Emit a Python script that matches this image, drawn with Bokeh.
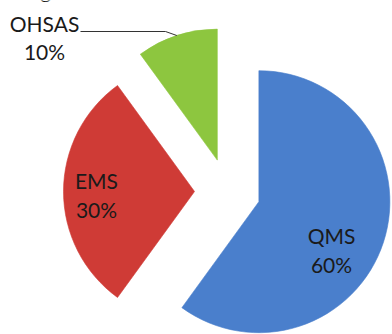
import math
from bokeh.plotting import figure
from bokeh.models import Range1d, ColumnDataSource
from bokeh.core.properties import value
from bokeh.embed import file_html
from bokeh.resources import INLINE

# ---- data ----
labels = ["QMS", "EMS", "OHSAS"]
values = [60, 30, 10]
pct_labels = ["60%", "30%", "10%"]
colors = ["#4a7fcc", "#cf3b36", "#8dc63f"]

W, H = 392, 334
p = figure(width=W, height=H, output_backend="svg", toolbar_location=None,
           x_range=Range1d(0, W), y_range=Range1d(0, H), min_border=0)
p.axis.visible = False
p.grid.visible = False
p.outline_line_color = None
p.background_fill_color = "white"

cx, cy = 227, H - 191
R = 131
explode = 33
total = sum(values)

xs, ys, sa, ea, mids = [], [], [], [], []
acc = 0.0
for v in values:
    t0 = acc / total * 360.0
    t1 = (acc + v) / total * 360.0
    tm = (t0 + t1) / 2
    acc += v
    m = math.radians(90 - tm)
    xs.append(cx + explode * math.cos(m))
    ys.append(cy + explode * math.sin(m))
    sa.append(math.radians(90 - t0))
    ea.append(math.radians(90 - t1))
    mids.append(m)

src = ColumnDataSource(dict(x=xs, y=ys, sa=sa, ea=ea, color=colors))
p.wedge(x="x", y="y", radius=R, start_angle="sa", end_angle="ea",
        direction="clock", fill_color="color", line_color="color",
        line_alpha=0.6, line_width=1, source=src)

# labels (screen positions converted to data)
lab_pos = {"QMS": (331, 235), "EMS": (96, 180), "OHSAS": (44, 22.5)}
gap = 28.5
for lab, pl in zip(labels, pct_labels):
    lx, ly = lab_pos[lab]
    p.text(x=[lx, lx], y=[H - ly, H - ly - gap], text=[lab, pl],
           text_font=value("Lato"), text_font_size="21px",
           text_color="#1a1a1a", text_align="center", text_baseline="middle")

# leader line for OHSAS
i = labels.index("OHSAS")
ex = xs[i] + R * math.cos(mids[i])
ey = ys[i] + R * math.sin(mids[i])
p.line(x=[80, 165, ex], y=[H - 31, H - 31, ey], line_color="#333333", line_width=1)

# cropped caption fragment at the top
p.text(x=[45], y=[H + 11], text=["g"], text_font=value("Liberation Serif"),
       text_font_size="22px", text_color="black", text_align="center",
       text_baseline="alphabetic")

open("out.html", "w").write(file_html(p, INLINE))
